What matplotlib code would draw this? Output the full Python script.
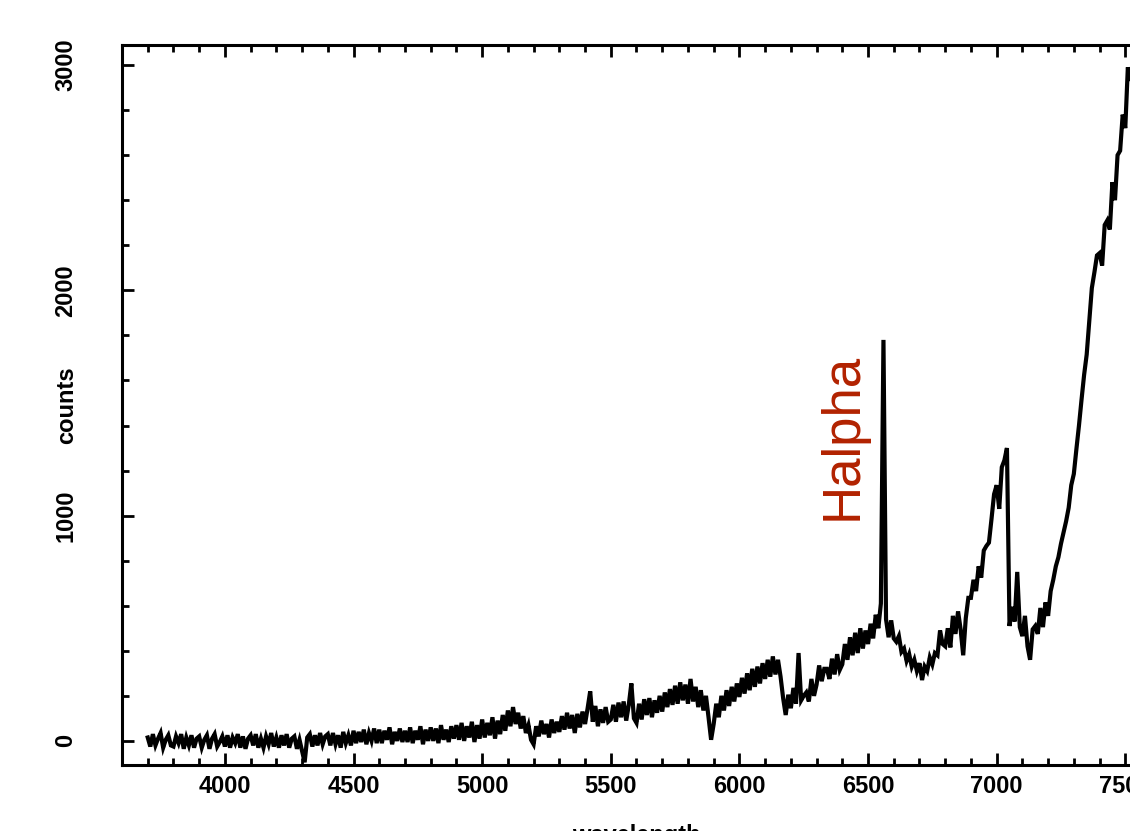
import numpy as np
import matplotlib
matplotlib.use("Agg")
import matplotlib.pyplot as plt
from matplotlib.ticker import MultipleLocator

# ---- data ----
wavelength = np.arange(3700, 7551, 10)
counts = [
    15, -25, 30, -20, 10, 35, -30, 5, 25, -20,            # 3700
    -25, 20, -10, 30, -35, 15, -20, 25, -30, 10,          # 3800
    20, -30, 5, 25, -35, 10, 30, -25, -5, 20,             # 3900
    -25, 25, -30, 15, -10, 30, -30, 20, -35, 10,          # 4000
    25, -20, 30, -30, 10, -30, 20, -15, 35, -25,          # 4100
    15, -30, 25, -20, 30, -30, 10, 20, -35, 5,            # 4200
    -45, -95, 15, 30, -25, 25, -20, 35, -15, 20,          # 4300
    30, -20, 35, -15, 25, -30, 40, -10, 25, -20,          # 4400
    45, -10, 40, -5, 50, -15, 35, 0, 55, -10,             # 4500
    50, -10, 45, 5, 60, -15, 40, 0, 55, -5,               # 4600
    45, -5, 60, -10, 45, 5, 65, -15, 50, 0,               # 4700
    60, 0, 55, -10, 70, 5, 50, -5, 65, 10,                # 4800
    70, 5, 80, 0, 65, 15, 85, -5, 70, 10,                 # 4900
    95, 15, 80, 25, 105, 10, 90, 30, 115, 45,             # 5000
    135, 65, 150, 75, 125, 55, 110, 35, 70, 5,            # 5100
    -15, 65, 20, 90, 30, 75, 15, 95, 35, 85,              # 5200
    40, 110, 50, 125, 55, 115, 35, 120, 60, 130,          # 5300
    75, 145, 220, 85, 155, 65, 140, 80, 150, 85,          # 5400
    95, 160, 85, 170, 105, 175, 90, 160, 255, 100,        # 5500
    80, 165, 95, 185, 115, 190, 105, 180, 125, 200,       # 5600
    130, 215, 150, 230, 160, 245, 165, 260, 180, 250,     # 5700
    165, 275, 175, 240, 150, 225, 135, 200, 105, 5,       # 5800
    75, 165, 105, 200, 135, 225, 155, 240, 175, 255,      # 5900
    195, 280, 210, 300, 225, 320, 240, 330, 255, 345,     # 6000
    275, 360, 285, 375, 295, 360, 285, 190, 115, 205,     # 6100
    145, 235, 165, 390, 180, 200, 215, 175, 275, 200,     # 6200
    250, 335, 265, 320, 320, 275, 365, 295, 385, 315,     # 6300
    340, 430, 360, 460, 380, 480, 390, 500, 410, 490,     # 6400
    430, 520, 455, 560, 500, 610, 1780, 540, 460, 535,    # 6500
    455, 440, 465, 395, 410, 355, 385, 330, 360, 310,     # 6600
    345, 270, 330, 310, 370, 340, 390, 380, 490, 430,     # 6700
    420, 500, 415, 555, 475, 575, 495, 380, 545, 635,     # 6800
    635, 715, 665, 775, 725, 845, 865, 880, 985, 1095,    # 6900
    1135, 1030, 1215, 1245, 1300, 510, 595, 530, 750, 505,   # 7000
    465, 555, 420, 360, 495, 510, 475, 590, 505, 615,     # 7100
    555, 665, 715, 775, 815, 875, 925, 975, 1035, 1135,   # 7200
    1185, 1295, 1400, 1515, 1625, 1715, 1860, 2010, 2080, 2155,  # 7300
    2165, 2110, 2290, 2310, 2270, 2480, 2400, 2600, 2620, 2780,  # 7400
    2720, 2990, 2930, 3060, 3000, 3080,                   # 7500
]
x_ticks = [4000, 4500, 5000, 5500, 6000, 6500, 7000, 7500]
y_ticks = [0, 1000, 2000, 3000]
line_label = "Halpha"
line_label_pos = (6401, 1351)

# ---- figure ----
plt.rcParams['font.family'] = ['Liberation Sans', 'DejaVu Sans']
fig = plt.figure(figsize=(11.30, 8.31), dpi=100)
ax = fig.add_axes([122 / 1130, 66 / 831, 1029 / 1130, 720 / 831])

ax.plot(wavelength, counts, color='black', lw=3.0, solid_joinstyle='miter')

ax.set_xlim(3600, 7600)
ax.set_ylim(-107, 3089)
ax.set_xticks(x_ticks)
ax.set_yticks(y_ticks)
ax.xaxis.set_minor_locator(MultipleLocator(100))
ax.yaxis.set_minor_locator(MultipleLocator(200))

for s in ax.spines.values():
    s.set_linewidth(2.2)

ax.tick_params(which='both', direction='in', top=True, right=True, width=2.0)
ax.tick_params(which='major', length=8.5)
ax.tick_params(which='minor', length=5)
ax.tick_params(axis='x', which='major', labelsize=17, pad=7)
ax.tick_params(axis='y', which='major', labelsize=17, pad=32, labelrotation=90)
for lab in ax.get_xticklabels() + ax.get_yticklabels():
    lab.set_fontweight('bold')
for lab in ax.get_yticklabels():
    lab.set_va('center')

ax.set_xlabel('wavelength', fontsize=17, fontweight='bold', labelpad=19)
fig.text(67 / 1130, 1 - 405 / 831, 'counts', rotation=90, fontsize=17,
         fontweight='bold', ha='center', va='center')

ax.text(line_label_pos[0], line_label_pos[1], line_label, rotation=90,
        fontsize=38, color='#B22200', ha='center', va='center')

fig.savefig('out.png', dpi=100)
